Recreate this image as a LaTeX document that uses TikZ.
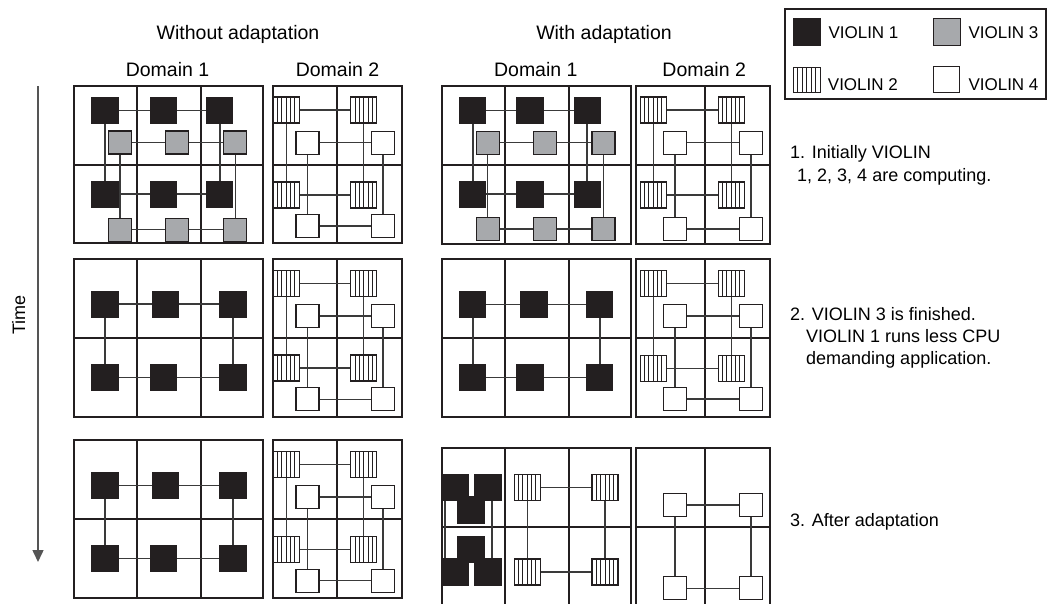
\documentclass[tikz,border=0pt]{standalone}
\usepackage{fontspec}
\setmainfont{Liberation Sans}
\usetikzlibrary{calc,arrows.meta}
\pgfdeclarelayer{bottom}
\pgfdeclarelayer{bg}
\pgfsetlayers{bottom,bg,main}
\definecolor{vblack}{HTML}{231F20}
\definecolor{vgrey}{HTML}{A7A9AC}
\definecolor{linec}{HTML}{231F20}
\definecolor{connc}{HTML}{3A3A3A}
\definecolor{gridc}{HTML}{231F20}
\definecolor{arrc}{HTML}{555555}
\newcommand\mygridthree[7]{\draw[gridl] (#1,#5) rectangle (#4,#7) (#2,#5)--(#2,#7) (#3,#5)--(#3,#7) (#1,#6)--(#4,#6);}
\newcommand\mygridtwo[6]{\draw[gridl] (#1,#4) rectangle (#3,#6) (#2,#4)--(#2,#6) (#1,#5)--(#3,#5);}
\tikzset{
  sqbase/.style={draw=linec, line width=1.2pt, inner sep=0pt, outer sep=0pt},
  blk/.style={sqbase, fill=vblack, draw=vblack, minimum size=26pt},
  gry/.style={sqbase, fill=vgrey, minimum size=23pt},
  wht/.style={sqbase, fill=white, minimum size=23pt},
  stp/.style={sqbase, fill=white, minimum size=26pt,
    path picture={\foreach \k in {1,...,5}{\draw[line width=1pt, linec]
      ($(path picture bounding box.south west)!\k/6!(path picture bounding box.south east)$) --
      ($(path picture bounding box.north west)!\k/6!(path picture bounding box.north east)$);}}},
  conn/.style={draw=connc, line width=1.5pt},
  gridl/.style={draw=gridc, line width=2pt},
  lbl/.style={font=\fontsize{18}{22}\selectfont, inner sep=0pt},
  hdl/.style={font=\fontsize{19.5}{23}\selectfont, inner sep=0pt},
  lgl/.style={font=\fontsize{17}{20}\selectfont, inner sep=0pt},
}
\begin{document}
\begin{tikzpicture}[x=1pt,y=-1pt]
\useasboundingbox (0,0) rectangle (1051,603);
\begin{pgfonlayer}{bottom}
\fill[white] (0,0) rectangle (1051,603);
\end{pgfonlayer}

% ---------- Row 1, without adaptation ----------
\node[blk] (r1wb1) at (105,110.3) {};
\node[blk] (r1wb2) at (163.2,110.3) {};
\node[blk] (r1wb3) at (219.8,110.3) {};
\node[blk] (r1wb4) at (105,194.2) {};
\node[blk] (r1wb5) at (163.2,194.2) {};
\node[blk] (r1wb6) at (219.8,194.2) {};
\node[gry] (r1wg1) at (120.2,142.5) {};
\node[gry] (r1wg2) at (177,142.5) {};
\node[gry] (r1wg3) at (235.3,142.5) {};
\node[gry] (r1wg4) at (120.2,229.7) {};
\node[gry] (r1wg5) at (177,229.7) {};
\node[gry] (r1wg6) at (235.3,229.7) {};
\node[stp] (r1ws1) at (286.3,110) {};
\node[stp] (r1ws2) at (363.7,110) {};
\node[stp] (r1ws3) at (286.3,195) {};
\node[stp] (r1ws4) at (363.7,195) {};
\node[wht] (r1ww1) at (307.5,142.7) {};
\node[wht] (r1ww2) at (383,142.7) {};
\node[wht] (r1ww3) at (307.5,226) {};
\node[wht] (r1ww4) at (383,226) {};

% ---------- Row 1, with adaptation ----------
\node[blk] (r1ab1) at (472.8,110.3) {};
\node[blk] (r1ab2) at (530,110.3) {};
\node[blk] (r1ab3) at (587.2,110.3) {};
\node[blk] (r1ab4) at (472.8,194.2) {};
\node[blk] (r1ab5) at (530,194.2) {};
\node[blk] (r1ab6) at (587.2,194.2) {};
\node[gry] (r1ag1) at (487.7,142.7) {};
\node[gry] (r1ag2) at (545,142.7) {};
\node[gry] (r1ag3) at (603.5,142.7) {};
\node[gry] (r1ag4) at (487.7,229) {};
\node[gry] (r1ag5) at (545,229) {};
\node[gry] (r1ag6) at (603.5,229) {};
\node[stp] (r1as1) at (653.3,110) {};
\node[stp] (r1as2) at (731.3,110) {};
\node[stp] (r1as3) at (653.3,195) {};
\node[stp] (r1as4) at (731.3,195) {};
\node[wht] (r1aw1) at (675,142.7) {};
\node[wht] (r1aw2) at (751,142.7) {};
\node[wht] (r1aw3) at (675,229) {};
\node[wht] (r1aw4) at (751,229) {};

% ---------- Row 2, without adaptation ----------
\node[blk] (r2wb1) at (105,304.2) {};
\node[blk] (r2wb2) at (165.8,304.2) {};
\node[blk] (r2wb3) at (233,304.2) {};
\node[blk] (r2wb4) at (105,377.3) {};
\node[blk] (r2wb5) at (163.2,377.3) {};
\node[blk] (r2wb6) at (233,377.3) {};
\node[stp] (r2ws1) at (286.3,283.3) {};
\node[stp] (r2ws2) at (363.7,283.3) {};
\node[stp] (r2ws3) at (286.3,368) {};
\node[stp] (r2ws4) at (363.7,368) {};
\node[wht] (r2ww1) at (307.5,315.8) {};
\node[wht] (r2ww2) at (383,315.8) {};
\node[wht] (r2ww3) at (307.5,399.3) {};
\node[wht] (r2ww4) at (383,399.3) {};

% ---------- Row 2, with adaptation ----------
\node[blk] (r2ab1) at (472.8,304.3) {};
\node[blk] (r2ab2) at (534,304.3) {};
\node[blk] (r2ab3) at (599.8,304.3) {};
\node[blk] (r2ab4) at (472.8,377.3) {};
\node[blk] (r2ab5) at (530,377.3) {};
\node[blk] (r2ab6) at (599.8,377.3) {};
\node[stp] (r2as1) at (653.3,283.3) {};
\node[stp] (r2as2) at (731.3,283.3) {};
\node[stp] (r2as3) at (653.3,368.3) {};
\node[stp] (r2as4) at (731.3,368.3) {};
\node[wht] (r2aw1) at (675,315.8) {};
\node[wht] (r2aw2) at (751,315.8) {};
\node[wht] (r2aw3) at (675,399) {};
\node[wht] (r2aw4) at (751,399) {};

% ---------- Row 3, without adaptation ----------
\node[blk] (r3wb1) at (105,485.5) {};
\node[blk] (r3wb2) at (165.8,485.5) {};
\node[blk] (r3wb3) at (233,485.5) {};
\node[blk] (r3wb4) at (105,558.5) {};
\node[blk] (r3wb5) at (163.2,558.5) {};
\node[blk] (r3wb6) at (233,558.5) {};
\node[stp] (r3ws1) at (286.3,464.6) {};
\node[stp] (r3ws2) at (363.7,464.6) {};
\node[stp] (r3ws3) at (286.3,549.3) {};
\node[stp] (r3ws4) at (363.7,549.3) {};
\node[wht] (r3ww1) at (307.5,497) {};
\node[wht] (r3ww2) at (383,497) {};
\node[wht] (r3ww3) at (307.5,580.6) {};
\node[wht] (r3ww4) at (383,580.6) {};

% ---------- Row 3, with adaptation ----------
\node[blk] (r3ab1) at (455,487.3) {};
\node[blk] (r3ab3) at (488,487.3) {};
\node[blk] (r3ab2) at (471,510) {};
\node[blk] (r3ab5) at (471,549.5) {};
\node[blk] (r3ab4) at (455,572) {};
\node[blk] (r3ab6) at (488,572) {};
\node[stp] (r3as1) at (527.3,487.3) {};
\node[stp] (r3as2) at (605,487.3) {};
\node[stp] (r3as3) at (527.3,572) {};
\node[stp] (r3as4) at (605,572) {};
\node[wht] (r3aw1) at (675,505) {};
\node[wht] (r3aw2) at (751,505) {};
\node[wht] (r3aw3) at (675,588.3) {};
\node[wht] (r3aw4) at (751,588.3) {};

\begin{pgfonlayer}{bg}
  % grids
  \mygridthree{74}{137.3}{201}{263}{86}{164.5}{243}
  \mygridtwo{273}{337.3}{402}{86}{164.5}{243}
  \mygridthree{442}{505}{568.5}{631}{86}{165}{243.5}
  \mygridtwo{636}{705.3}{770}{86}{165}{243.5}
  \mygridthree{74}{137.3}{201}{263}{259}{337.5}{417}
  \mygridtwo{273}{337.3}{402}{259}{337.5}{417}
  \mygridthree{442}{505}{568.5}{631}{259}{337.5}{417}
  \mygridtwo{636}{705.3}{770}{259}{337.5}{417}
  \mygridthree{74}{137.3}{201}{263}{440.3}{519}{597.5}
  \mygridtwo{273}{337.3}{402}{440.3}{519}{597.5}
  \mygridthree{442}{505}{568.5}{631}{448}{527}{608}
  \mygridtwo{636}{705.3}{770}{448}{527}{608}
  % connectors
  \foreach \p in {r1w,r1a,r2w,r2a,r3w}{
    \draw[conn] (\p b1)--(\p b2)--(\p b3) (\p b4)--(\p b5)--(\p b6) (\p b1)--(\p b4) (\p b3)--(\p b6);
    \draw[conn] (\p s1)--(\p s2) (\p s3)--(\p s4) (\p s1)--(\p s3) (\p s2)--(\p s4);
    \draw[conn] (\p w1)--(\p w2) (\p w3)--(\p w4) (\p w1)--(\p w3) (\p w2)--(\p w4);
  }
  \foreach \p in {r1w,r1a}{
    \draw[conn] (\p g1)--(\p g2)--(\p g3) (\p g4)--(\p g5)--(\p g6) (\p g1)--(\p g4) (\p g3)--(\p g6);
  }
  \draw[conn] (r3as1)--(r3as2) (r3as3)--(r3as4) (r3as1)--(r3as3) (r3as2)--(r3as4);
  \draw[conn] (r3aw1)--(r3aw2) (r3aw3)--(r3aw4) (r3aw1)--(r3aw3) (r3aw2)--(r3aw4);
  \draw[conn] ([xshift=-10pt]r3ab1.south) -- ([xshift=-10pt]r3ab4.north);
  \draw[conn] ([xshift=4pt]r3ab3.south) -- ([xshift=4pt]r3ab6.north);
\end{pgfonlayer}

% ---------- headings ----------
\node[hdl, anchor=base] (hwo) at (238,39.5) {Without adaptation};
\node[hdl, anchor=base] (hw) at (604,39.5) {With adaptation};
\node[hdl, anchor=base] (d1w) at (167.5,76.5) {Domain 1};
\node[hdl, anchor=base] (d2w) at (337.5,76.5) {Domain 2};
\node[hdl, anchor=base] (d1a) at (535.8,76.5) {Domain 1};
\node[hdl, anchor=base] (d2a) at (704.2,76.5) {Domain 2};

% ---------- right-hand notes ----------
\node[lbl, anchor=base west] (n1a) at (790,158.5) {1. Initially VIOLIN};
\node[lbl, anchor=base west] (n1b) at (797,181) {1, 2, 3, 4 are computing.};
\node[lbl, anchor=base west] (n2a) at (790,320.5) {2. VIOLIN 3 is finished.};
\node[lbl, anchor=base west] (n2b) at (806,342.5) {VIOLIN 1 runs less CPU};
\node[lbl, anchor=base west] (n2c) at (806,364.5) {demanding application.};
\node[lbl, anchor=base west] (n3a) at (790,526.5) {3. After adaptation};

% ---------- time axis ----------
\coordinate (ttop) at (38,86);
\coordinate (tbot) at (38,562);
\draw[line width=1.5pt, arrc, -{Triangle[length=12pt,width=11pt]}] (ttop) -- (tbot);
\node[lbl, rotate=90, anchor=base] (time) at (25,315) {Time};

% ---------- legend ----------
\draw[line width=1.5pt, linec] (785,9) rectangle (1046,99);
\node[blk, minimum size=27pt] (lg1) at (806.7,31.7) {};
\node[lgl, anchor=base west] (lt1) at (828.3,38.3) {VIOLIN 1};
\node[gry, minimum size=27pt] (lg3) at (946.7,31.7) {};
\node[lgl, anchor=base west] (lt3) at (968.3,38.3) {VIOLIN 3};
\node[stp, minimum width=27pt, minimum height=25pt] (lg2) at (806.7,80) {};
\node[lgl, anchor=base west] (lt2) at (827.7,90.7) {VIOLIN 2};
\node[wht, minimum size=26pt] (lg4) at (946.3,79.5) {};
\node[lgl, anchor=base west] (lt4) at (968.3,90.7) {VIOLIN 4};
\end{tikzpicture}
\end{document}
